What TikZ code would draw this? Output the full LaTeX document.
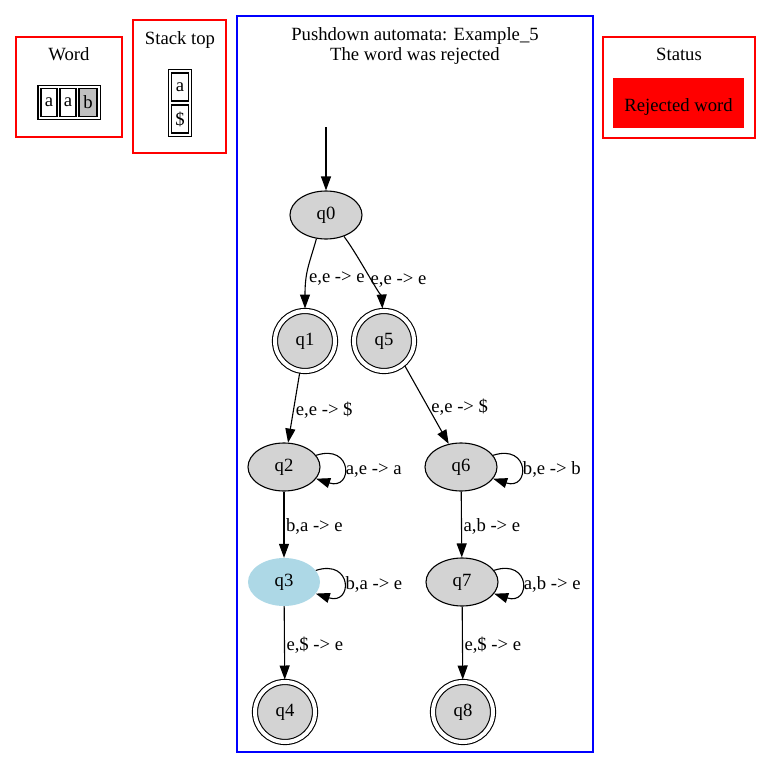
\documentclass[tikz,border=0pt]{standalone}
\usepackage{fontspec}
\setmainfont{Liberation Serif}
\usetikzlibrary{arrows.meta,shapes.geometric,fit}
\definecolor{stategray}{HTML}{D3D3D3}
\definecolor{stateblue}{HTML}{ADD8E6}
\definecolor{cellgray}{HTML}{C0C0C0}

\begin{document}
\begin{tikzpicture}[x=1pt,y=-1pt,font=\fontsize{18.67}{20}\selectfont,
    every node/.style={inner sep=0pt},
    state/.style={ellipse,draw,line width=1.1pt,fill=stategray,minimum width=72pt,minimum height=48pt},
    current/.style={ellipse,fill=stateblue,minimum width=72pt,minimum height=48pt},
    final/.style={circle,draw,line width=1.1pt,double,double distance=4pt,fill=stategray,minimum size=60pt,outer sep=2.5pt},
    edge/.style={-{Triangle[length=14pt,width=10pt]},line width=1.1pt},
    lbl/.style={right,inner sep=1.5pt,text height=0.45em,text depth=0pt,yshift=-5pt},
    panel/.style={draw=red,line width=1.1pt},
    cell/.style={draw,line width=1.1pt,minimum width=16pt,minimum height=28pt},
    tablebox/.style={draw,line width=1.1pt,inner sep=2.5pt}]
  \useasboundingbox (0,0) rectangle (771,768);

  % word panel
  \draw[panel] (16,37) rectangle (122,137);
  \node[anchor=base] (wordtitle) at (69,60) {Word};
  \node[cell] (w1) at (49,102.5) {a};
  \node[cell] (w2) at (68,102.5) {a};
  \node[cell,fill=cellgray,minimum width=18pt] (w3) at (88,102.5) {b};
  \node[tablebox,fit=(w1)(w3)] (word) {};

  % stack panel
  \draw[panel] (133,20) rectangle (226,153);
  \node[anchor=base] (stacktitle) at (180,45) {Stack top};
  \node[cell,minimum width=17pt] (s1) at (180,87) {a};
  \node[cell,minimum width=17pt] (s2) at (180,119) {\$};
  \node[tablebox,fit=(s1)(s2)] (stack) {};

  % status panel
  \draw[panel] (603,37) rectangle (755,138);
  \node[anchor=base] (statustitle) at (679,60) {Status};
  \node[fill=red,minimum width=131pt,minimum height=50pt] (status) at (678.5,103) {};
  \node[anchor=base] (statustext) at (678.5,111) {Rejected word};

  % automaton
  \draw[draw=blue,line width=1.1pt] (237,16) rectangle (593,752);
  \node[align=center] (title) at (415,46) {Pushdown automata: Example\_5\\The word was rejected};

  \coordinate (start) at (326,127);
  \node[state] (q0) at (326,215) {q0};
  \node[final] (q1) at (305,341) {q1};
  \node[final] (q5) at (384,341) {q5};
  \node[state] (q2) at (284,467) {q2};
  \node[state] (q6) at (461,467) {q6};
  \node[current] (q3) at (284,582) {q3};
  \node[state] (q7) at (462,582) {q7};
  \node[final] (q4) at (285,712) {q4};
  \node[final] (q8) at (463,712) {q8};

  \draw[edge] (start) -- (q0);
  \draw[edge] (q0.-112) .. controls +(-7,25) and +(0,-70) .. node[lbl,pos=.6] (l01) {e,e -> e} (q1);
  \draw[edge] (q0.-50) .. controls +(15,20) and +(-2,-40) .. node[lbl,pos=.5] (l05) {e,e -> e} (q5);
  \draw[edge] (q1) -- node[lbl] (l12) {e,e -> \$} (q2);
  \draw[edge] (q5.-50) -- node[lbl,inner sep=4pt] (l56) {e,e -> \$} (q6.118);
  \draw[edge] (q2) -- node[lbl] (l23) {b,a -> e} (q3);
  \draw[edge] (q6) -- node[lbl] (l67) {a,b -> e} (q7);
  \draw[edge] (q3) -- node[lbl] (l34) {e,\$ -> e} (q4);
  \draw[edge] (q7) -- node[lbl] (l78) {e,\$ -> e} (q8);

  % self loops
  \draw[edge] (q2.20) .. controls +(37,-12) and +(37,12) .. node[lbl] (l22) {a,e -> a} (q2.-20);
  \draw[edge] (q6.20) .. controls +(37,-12) and +(37,12) .. node[lbl] (l66) {b,e -> b} (q6.-20);
  \draw[edge] (q3.20) .. controls +(37,-12) and +(37,12) .. node[lbl] (l33) {b,a -> e} (q3.-20);
  \draw[edge] (q7.20) .. controls +(37,-12) and +(37,12) .. node[lbl] (l77) {a,b -> e} (q7.-20);
\end{tikzpicture}
\end{document}
